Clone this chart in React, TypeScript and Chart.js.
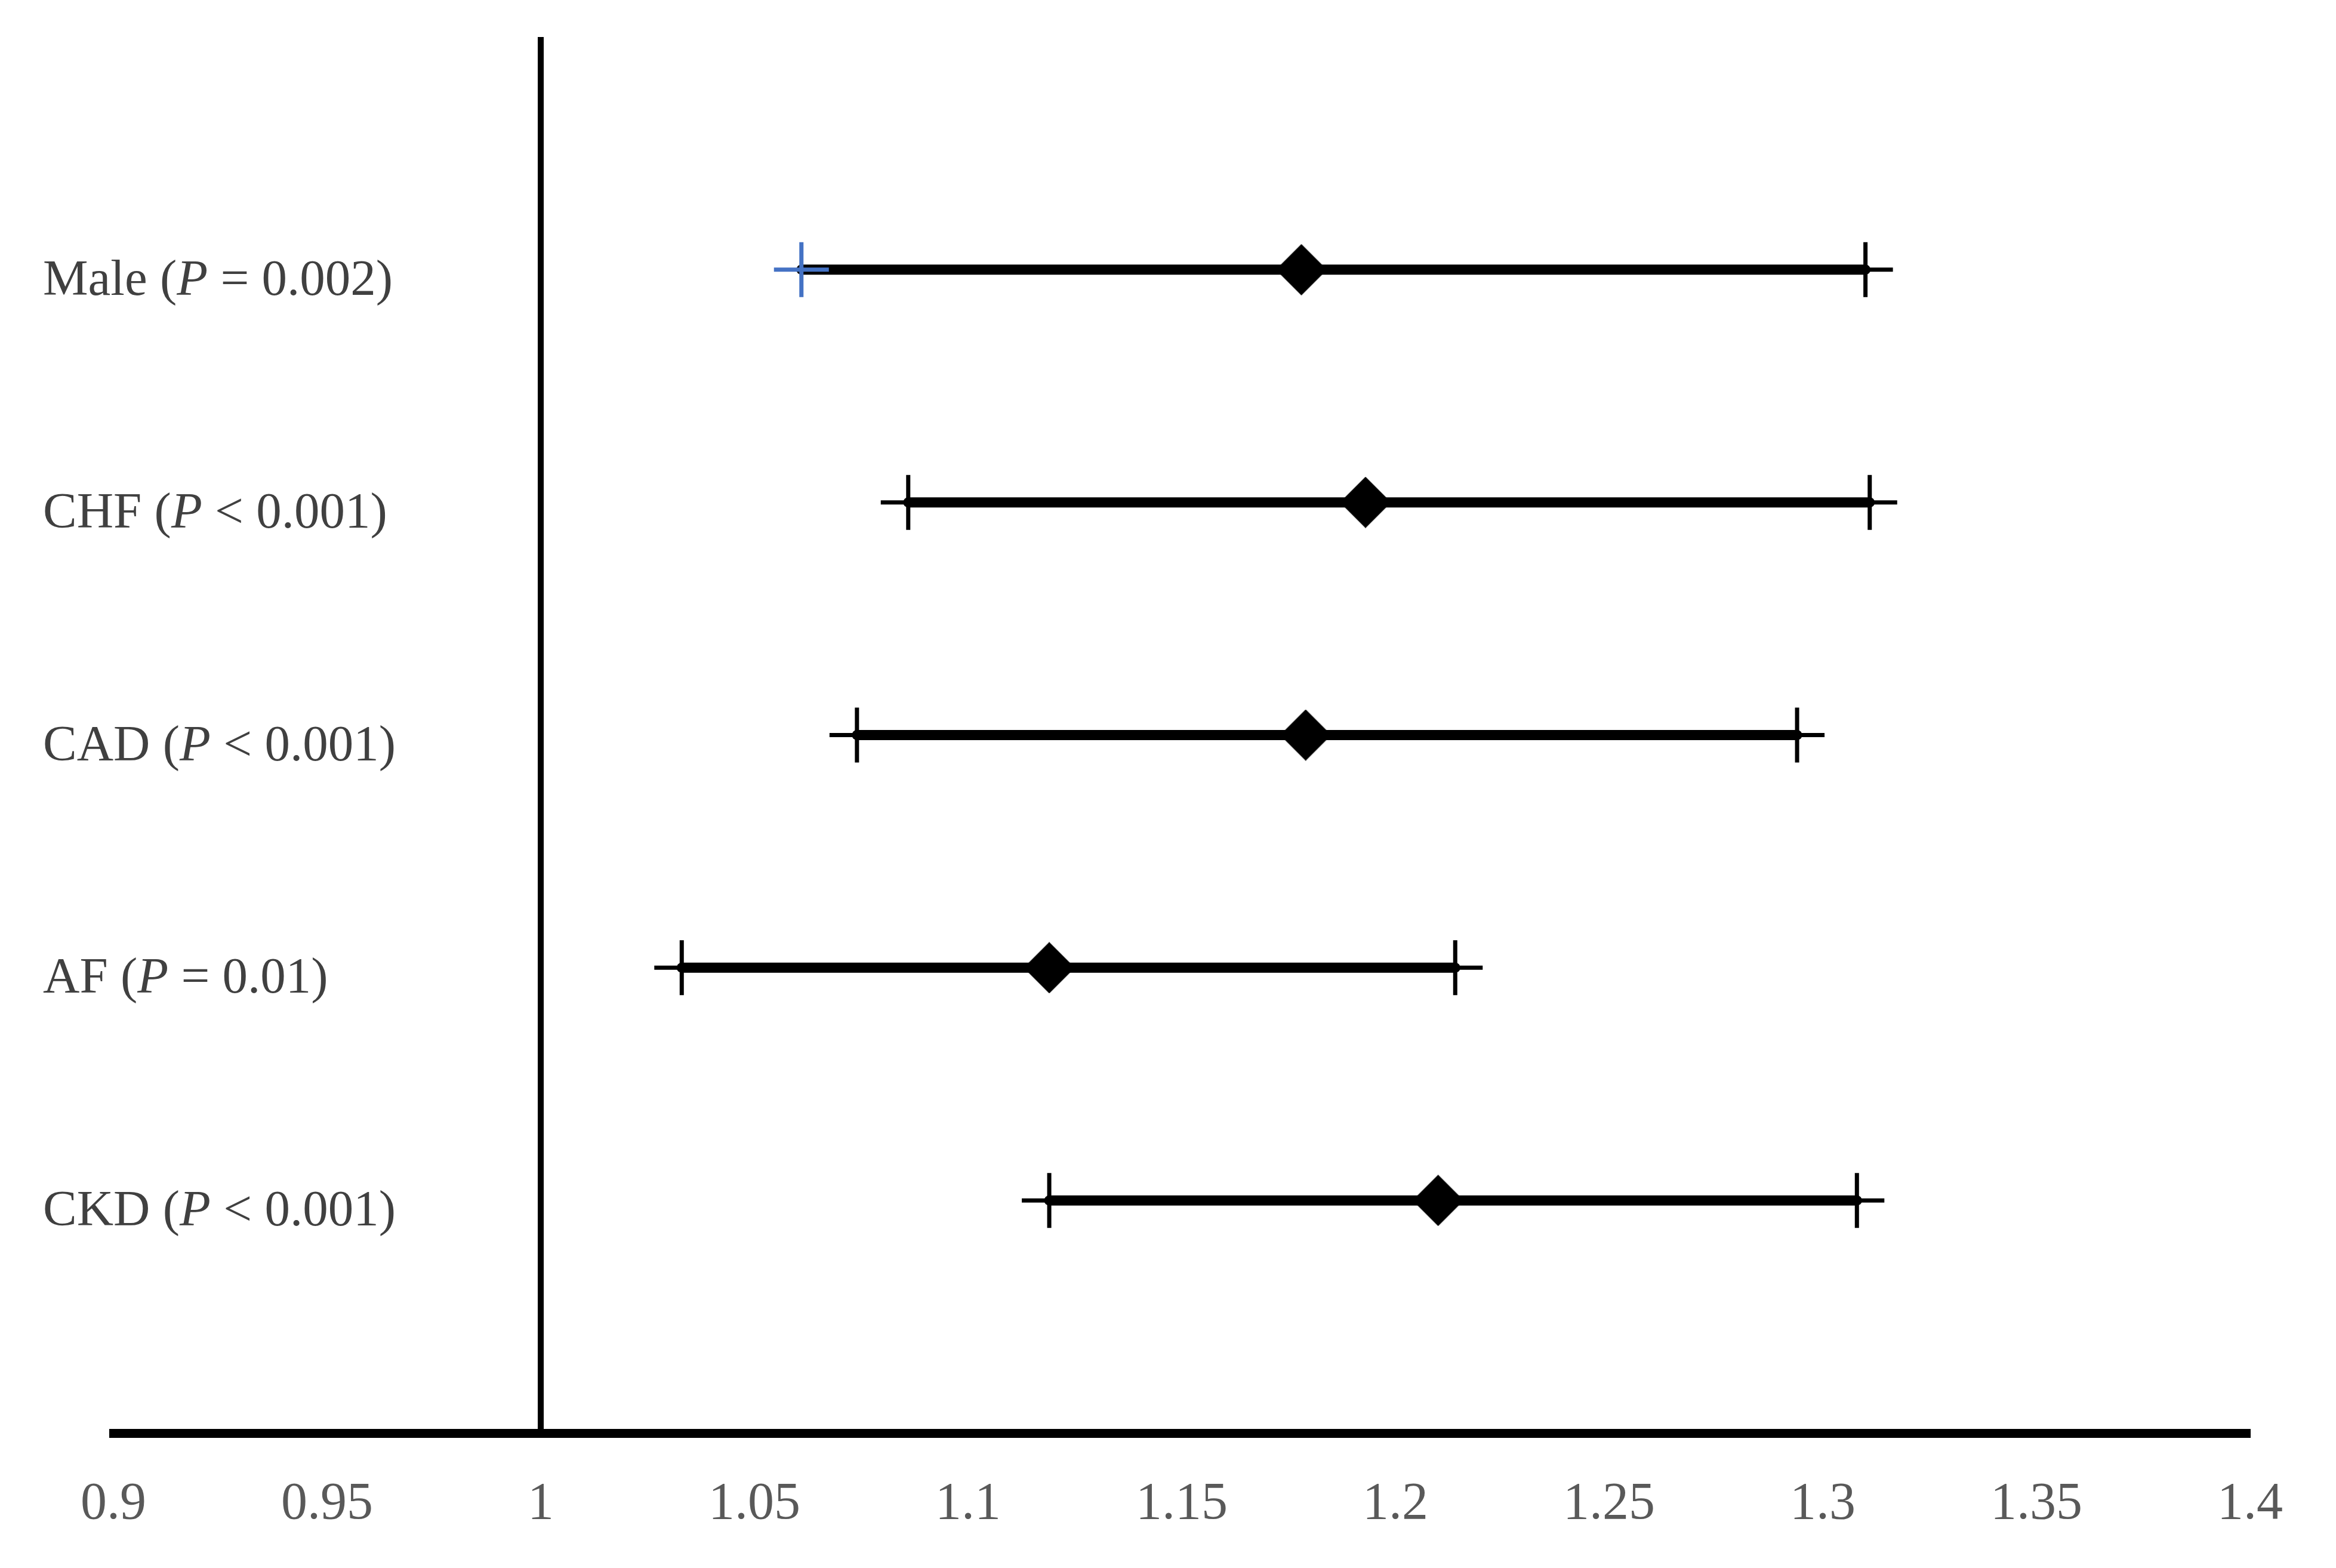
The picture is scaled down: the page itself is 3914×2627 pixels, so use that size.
import React, { useEffect, useRef } from "react";
import { Chart, registerables } from "chart.js";

Chart.register(...registerables);

// ---- Data ----
const categories = ["Male", "CHF", "CAD", "AF", "CKD"];
const pOperators = ["=", "<", "<", "=", "<"];
const pValues = ["0.002", "0.001", "0.001", "0.01", "0.001"];
const estimates = [1.178, 1.193, 1.179, 1.119, 1.21];
const lowerCI = [1.061, 1.086, 1.074, 1.033, 1.119];
const upperCI = [1.31, 1.311, 1.294, 1.214, 1.308];
const rowPositions = [1, 2, 3, 4, 5];
const xTickValues = [0.9, 0.95, 1, 1.05, 1.1, 1.15, 1.2, 1.25, 1.3, 1.35, 1.4];
const referenceValue = 1;
const lowerCapColors = ["#4472C4", "#000000", "#000000", "#000000", "#000000"];

const W = 3914;
const H = 2627;

function makeDiamond(w: number, h: number) {
  const c = document.createElement("canvas");
  c.width = w;
  c.height = h;
  const g = c.getContext("2d")!;
  g.fillStyle = "#000";
  g.beginPath();
  g.moveTo(w / 2, 0);
  g.lineTo(w, h / 2);
  g.lineTo(w / 2, h);
  g.lineTo(0, h / 2);
  g.closePath();
  g.fill();
  return c;
}

const rowLabelPlugin = {
  id: "rowLabels",
  afterDraw(chart: any) {
    const ctx = chart.ctx as CanvasRenderingContext2D;
    const yScale = chart.scales.y;
    ctx.save();
    ctx.fillStyle = "#404040";
    ctx.textBaseline = "alphabetic";
    ctx.textAlign = "left";
    categories.forEach((name, i) => {
      const y = yScale.getPixelForValue(rowPositions[i]) + 42;
      let x = 72;
      const parts: [string, boolean][] = [
        [name + " (", false],
        ["P", true],
        [" " + pOperators[i] + " " + pValues[i] + ")", false],
      ];
      for (const [t, it] of parts) {
        ctx.font = (it ? "italic " : "") + '85px "Liberation Serif"';
        ctx.fillText(t, x, y);
        x += ctx.measureText(t).width;
      }
    });
    ctx.restore();
  },
};

export default function App() {
  const ref = useRef<HTMLCanvasElement | null>(null);

  useEffect(() => {
    if (!ref.current) return;
    const diamond = makeDiamond(86, 86);

    const ciDatasets = categories.map((name, i) => ({
      label: name + " CI",
      data: [
        { x: lowerCI[i], y: rowPositions[i] },
        { x: upperCI[i], y: rowPositions[i] },
      ],
      showLine: true,
      borderColor: "#000000",
      borderWidth: 17,
      borderCapStyle: "round" as const,
      pointRadius: 0,
      order: 3,
    }));

    const chart = new Chart(ref.current, {
      type: "scatter",
      data: {
        datasets: [
          {
            label: "estimate",
            data: categories.map((_, i) => ({ x: estimates[i], y: rowPositions[i] })),
            pointStyle: diamond as any,
            pointRadius: 43,
            order: 0,
          },
          {
            label: "lower cap",
            data: categories.map((_, i) => ({ x: lowerCI[i], y: rowPositions[i] })),
            pointStyle: "cross",
            pointRadius: 46,
            pointBorderWidth: 7,
            pointBorderColor: lowerCapColors,
            order: 1,
          },
          {
            label: "upper cap",
            data: categories.map((_, i) => ({ x: upperCI[i], y: rowPositions[i] })),
            pointStyle: "cross",
            pointRadius: 46,
            pointBorderWidth: 7,
            pointBorderColor: "#000000",
            order: 1,
          },
          ...ciDatasets,
          {
            label: "reference",
            data: [
              { x: referenceValue, y: 0 },
              { x: referenceValue, y: 6 },
            ],
            showLine: true,
            borderColor: "#000000",
            borderWidth: 10,
            pointRadius: 0,
            order: 4,
          },
        ],
      },
      options: {
        animation: false,
        responsive: false,
        devicePixelRatio: 1,
        layout: { padding: { left: 190, right: 144, top: 62, bottom: 53 } },
        plugins: { legend: { display: false }, tooltip: { enabled: false } },
        scales: {
          x: {
            type: "linear",
            min: 0.9,
            max: 1.4,
            afterBuildTicks: (scale: any) => {
              scale.ticks = xTickValues.map((v) => ({ value: v }));
            },
            afterFit: (scale: any) => {
              scale.height = 173;
            },
            ticks: {
              callback: (v: any) => String(Number(Number(v).toFixed(2))),
              color: "#595959",
              font: { family: '"Liberation Serif"', size: 88 },
              padding: 67,
              autoSkip: false,
              maxRotation: 0,
            },
            grid: { display: false, drawTicks: false },
            border: { display: true, color: "#000000", width: 15 },
          },
          y: {
            type: "linear",
            min: 0,
            max: 6,
            reverse: true,
            display: false,
          },
        },
      },
      plugins: [rowLabelPlugin],
    });
    return () => chart.destroy();
  }, []);

  return (
    <div style={{ position: "fixed", left: 0, top: 0, width: W, height: H, background: "#fff" }}>
      <canvas ref={ref} width={W} height={H} style={{ display: "block" }} />
    </div>
  );
}
